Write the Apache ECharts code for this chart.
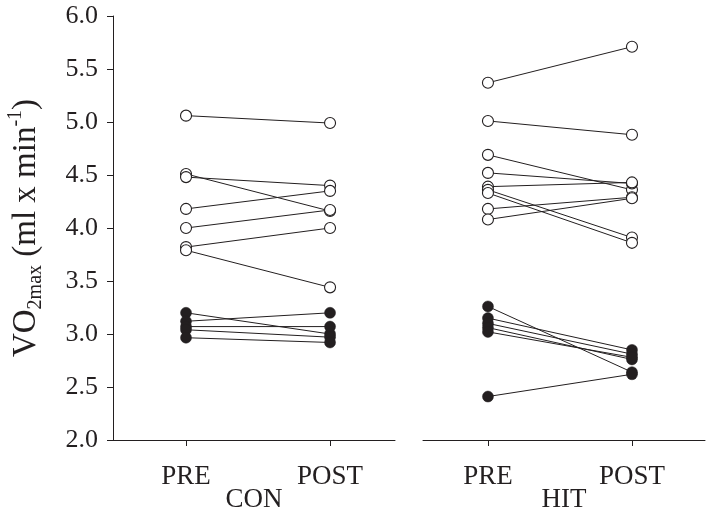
<!DOCTYPE html>
<html>
<head>
<meta charset="utf-8">
<script src="https://cdn.jsdelivr.net/npm/echarts@6/dist/echarts.min.js"></script>
<style>html,body{margin:0;padding:0;background:#fff}#c{width:711px;height:517px}</style>
</head>
<body>
<div id="c"></div>
<script>
// Data
var timeLabels = ['PRE', 'POST'];
var groupNames = ['CON', 'HIT'];
var yTicks = [2.0, 2.5, 3.0, 3.5, 4.0, 4.5, 5.0, 5.5, 6.0];

var conOpenPre  = [5.06, 4.51, 4.48, 4.18, 4.00, 3.82, 3.79];
var conOpenPost = [4.99, 4.16, 4.40, 4.35, 4.17, 4.00, 3.44];
var conFilledPre  = [3.20, 3.12, 3.07, 3.04, 2.965];
var conFilledPost = [3.00, 3.20, 3.07, 2.97, 2.92];

var hitOpenPre  = [5.37, 5.01, 4.69, 4.52, 4.39, 4.36, 4.33, 4.18, 4.08];
var hitOpenPost = [5.71, 4.88, 4.36, 4.42, 4.43, 3.91, 3.86, 4.29, 4.28];
var hitFilledPre  = [3.26, 3.15, 3.10, 3.06, 3.02, 2.41];
var hitFilledPost = [2.64, 2.85, 2.81, 2.76, 2.78, 2.62];

var INK = '#231f20';
var FONT = 'Liberation Serif';

var chart = echarts.init(document.getElementById('c'), null, {renderer: 'canvas'});

function pairLines(pre, post, axisIdx) {
  return pre.map(function (v, i) {
    return {
      type: 'line', xAxisIndex: axisIdx, yAxisIndex: axisIdx,
      data: [[0, v], [1, post[i]]],
      showSymbol: false, symbol: 'none', silent: true, z: 2,
      lineStyle: {color: INK, width: 1}
    };
  });
}
function points(pre, post, axisIdx, filled) {
  var d = [];
  pre.forEach(function (v) { d.push([0, v]); });
  post.forEach(function (v) { d.push([1, v]); });
  return {
    type: 'scatter', xAxisIndex: axisIdx, yAxisIndex: axisIdx, data: d, z: 3,
    symbol: 'circle', symbolSize: 11,
    itemStyle: filled ? {color: INK, borderColor: INK, borderWidth: 0.5, opacity: 1}
                      : {color: '#fff', borderColor: INK, borderWidth: 1.1, opacity: 1}
  };
}

var series = [].concat(
  pairLines(conOpenPre, conOpenPost, 0),
  pairLines(conFilledPre, conFilledPost, 0),
  pairLines(hitOpenPre, hitOpenPost, 1),
  pairLines(hitFilledPre, hitFilledPost, 1),
  [points(conOpenPre, conOpenPost, 0, false),
   points(conFilledPre, conFilledPost, 0, true),
   points(hitOpenPre, hitOpenPost, 1, false),
   points(hitFilledPre, hitFilledPost, 1, true)]
);

function xAxis(idx, min, max) {
  return {
    type: 'value', gridIndex: idx, min: min, max: max,
    splitLine: {show: false},
    axisLine: {show: true, onZero: false, lineStyle: {color: INK, width: 1}},
    axisTick: {show: true, inside: false, length: 6, customValues: [0, 1], lineStyle: {color: INK}},
    axisLabel: {show: true, customValues: [0, 1], margin: 23, fontFamily: FONT, fontSize: 27, color: INK,
      formatter: function (v) { return timeLabels[Math.round(v)]; }},
    name: groupNames[idx], nameLocation: 'middle', nameGap: 46, nameMoveOverlap: false,
    nameTextStyle: {fontFamily: FONT, fontSize: 27, color: INK, lineHeight: 27}
  };
}

var option = {
  backgroundColor: '#fff',
  animation: false,
  grid: [
    {left: 113, top: 16, width: 282, bottom: 77, outerBoundsMode: 'none', containLabel: false},
    {left: 423, top: 16, width: 282, bottom: 77, outerBoundsMode: 'none', containLabel: false}
  ],
  xAxis: [xAxis(0, -0.507, 1.451), xAxis(1, -0.451, 1.507)],
  yAxis: [
    {
      type: 'value', gridIndex: 0, min: yTicks[0], max: yTicks[yTicks.length - 1], interval: 0.5,
      splitLine: {show: false},
      axisLine: {show: true, onZero: false, lineStyle: {color: INK, width: 1}},
      axisTick: {show: true, inside: false, length: 6, lineStyle: {color: INK}},
      axisLabel: {margin: 15, fontFamily: FONT, fontSize: 26, color: INK,
        formatter: function (v) { return v.toFixed(1); }},
      name: '{a|VO}{b|2max}{a| (ml x min}{c|-1}{a|)}',
      nameLocation: 'middle', nameRotate: 90, nameGap: 67, nameMoveOverlap: false,
      nameTextStyle: {
        fontFamily: FONT, fontSize: 33, color: INK,
        rich: {
          a: {fontFamily: FONT, fontSize: 33, color: INK, lineHeight: 40},
          b: {fontFamily: FONT, fontSize: 20, color: INK, lineHeight: 19, verticalAlign: 'bottom'},
          c: {fontFamily: FONT, fontSize: 20, color: INK, lineHeight: 20, verticalAlign: 'top'}
        }
      }
    },
    {
      type: 'value', gridIndex: 1, min: yTicks[0], max: yTicks[yTicks.length - 1], interval: 0.5,
      show: false, splitLine: {show: false}
    }
  ],
  series: series
};
chart.setOption(option);
</script>
</body>
</html>
